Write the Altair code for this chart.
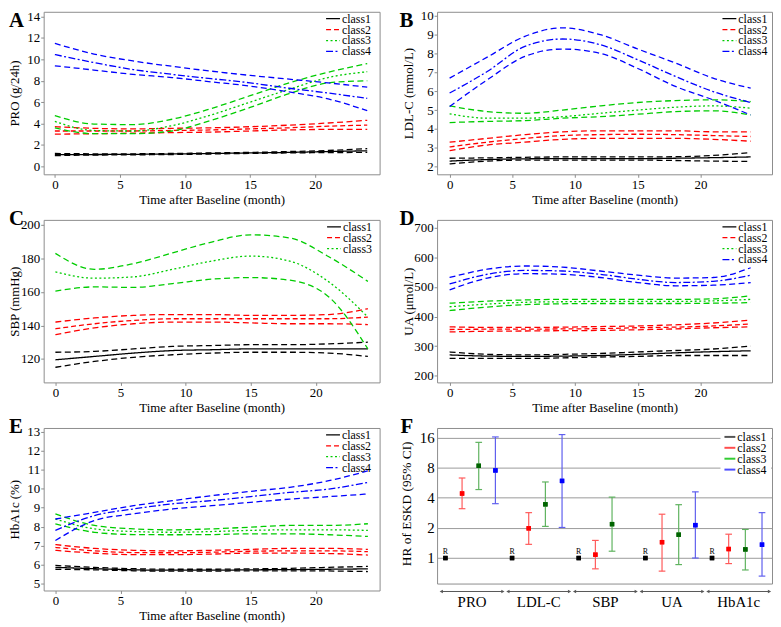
import altair as alt
import pandas as pd

FONT = "Liberation Serif"
months = [0, 3, 6, 9, 12, 15, 18, 21, 24]
classes = ["class1", "class2", "class3", "class4"]
line_colors = ["#000000", "#ff0000", "#00cc00", "#0000ff"]
mid_styles = ["solid", "dash", "dot", "dotdash"]
style_names = ["solid", "dash", "dot", "dotdash", "ci"]
style_dashes = [[1, 0], [5, 3], [2, 2.5], [7, 2.5, 2, 2.5], [6, 3.5]]
x_ticks = [0, 5, 10, 15, 20]

# ---------- Panel A: PRO (g/24h) ----------
pro_lower = [
    [1.00, 1.05, 1.07, 1.10, 1.15, 1.20, 1.25, 1.28, 1.30],
    [3.00, 3.05, 3.10, 3.15, 3.20, 3.30, 3.40, 3.45, 3.45],
    [3.60, 3.05, 3.05, 3.30, 4.30, 5.50, 6.80, 7.80, 8.00],
    [9.40, 9.00, 8.60, 8.30, 7.90, 7.50, 6.95, 6.30, 5.20],
]
pro_mid = [
    [1.10, 1.10, 1.12, 1.15, 1.20, 1.25, 1.30, 1.38, 1.45],
    [3.30, 3.30, 3.30, 3.35, 3.40, 3.50, 3.60, 3.75, 3.85],
    [4.20, 3.35, 3.30, 3.80, 4.80, 6.00, 7.20, 8.30, 8.85],
    [10.45, 9.70, 9.05, 8.60, 8.20, 7.80, 7.30, 6.85, 6.35],
]
pro_upper = [
    [1.20, 1.17, 1.17, 1.20, 1.25, 1.30, 1.38, 1.48, 1.65],
    [3.70, 3.55, 3.50, 3.55, 3.60, 3.70, 3.85, 4.05, 4.30],
    [4.75, 3.95, 3.90, 4.40, 5.40, 6.60, 7.80, 8.80, 9.60],
    [11.50, 10.50, 9.85, 9.35, 8.90, 8.50, 8.15, 7.80, 7.40],
]

# ---------- Panel B: LDL-C (mmol/L) ----------
ldl_lower = [
    [2.15, 2.30, 2.35, 2.35, 2.35, 2.35, 2.33, 2.30, 2.28],
    [2.85, 3.15, 3.30, 3.45, 3.50, 3.50, 3.50, 3.45, 3.35],
    [4.34, 4.40, 4.44, 4.57, 4.65, 4.78, 4.92, 4.96, 4.74],
    [5.19, 6.60, 7.84, 8.23, 8.00, 7.20, 6.25, 5.54, 4.74],
]
ldl_mid = [
    [2.30, 2.38, 2.42, 2.43, 2.43, 2.43, 2.45, 2.48, 2.52],
    [3.05, 3.30, 3.50, 3.65, 3.70, 3.72, 3.70, 3.65, 3.60],
    [4.80, 4.57, 4.57, 4.65, 4.83, 5.00, 5.15, 5.22, 5.10],
    [5.90, 7.04, 8.37, 8.76, 8.46, 7.66, 6.78, 5.98, 5.40],
]
ldl_upper = [
    [2.45, 2.47, 2.50, 2.52, 2.52, 2.52, 2.53, 2.60, 2.75],
    [3.30, 3.50, 3.70, 3.85, 3.90, 3.90, 3.90, 3.85, 3.85],
    [5.22, 4.92, 4.83, 5.00, 5.22, 5.40, 5.50, 5.54, 5.45],
    [6.69, 7.80, 8.90, 9.35, 8.99, 8.23, 7.49, 6.69, 6.16],
]

# ---------- Panel C: SBP (mmHg) ----------
sbp_lower = [
    [115.0, 118.5, 121.0, 122.5, 123.5, 124.0, 124.0, 123.5, 121.5],
    [134.5, 138.5, 141.0, 142.0, 142.0, 141.5, 141.0, 141.0, 140.5],
    [160.5, 163.0, 162.7, 165.0, 167.6, 168.6, 167.0, 157.0, 126.0],
]
sbp_mid = [
    [119.5, 121.5, 123.5, 125.0, 125.5, 126.0, 126.0, 126.0, 126.0],
    [138.0, 141.0, 143.0, 144.0, 144.0, 144.0, 144.0, 144.0, 145.0],
    [172.0, 168.2, 169.0, 173.5, 178.4, 181.4, 178.4, 166.0, 145.0],
]
sbp_upper = [
    [124.0, 124.5, 126.0, 127.5, 128.0, 128.5, 128.5, 129.0, 130.0],
    [142.0, 144.5, 146.0, 146.5, 146.5, 146.0, 146.0, 146.5, 150.0],
    [183.0, 173.5, 176.9, 183.3, 189.8, 194.1, 192.2, 181.0, 166.3],
]

# ---------- Panel D: UA (umol/L) ----------
ua_lower = [
    [258, 258, 258, 260, 263, 265, 268, 268, 268],
    [348, 350, 351, 352, 353, 355, 358, 362, 365],
    [420, 432, 440, 443, 444, 444, 444, 445, 447],
    [490, 530, 545, 543, 532, 515, 504, 506, 515],
]
ua_mid = [
    [270, 266, 265, 266, 268, 272, 277, 281, 284],
    [356, 357, 357, 358, 359, 362, 364, 368, 375],
    [433, 442, 448, 450, 451, 451, 451, 453, 458],
    [510, 543, 556, 554, 543, 526, 515, 519, 540],
]
ua_upper = [
    [280, 272, 270, 272, 275, 280, 285, 290, 300],
    [365, 363, 363, 364, 366, 368, 372, 378, 388],
    [445, 452, 456, 458, 458, 458, 458, 460, 470],
    [532, 560, 571, 567, 554, 540, 530, 532, 565],
]

# ---------- Panel E: HbA1c (%) ----------
hba_lower = [
    [5.75, 5.72, 5.67, 5.65, 5.65, 5.67, 5.67, 5.66, 5.63],
    [6.75, 6.60, 6.52, 6.52, 6.55, 6.60, 6.60, 6.58, 6.50],
    [8.15, 7.70, 7.58, 7.57, 7.58, 7.62, 7.62, 7.57, 7.48],
    [7.27, 8.32, 8.67, 8.93, 9.10, 9.28, 9.45, 9.58, 9.72],
]
hba_mid = [
    [5.85, 5.78, 5.72, 5.70, 5.70, 5.72, 5.73, 5.75, 5.77],
    [6.90, 6.72, 6.63, 6.62, 6.65, 6.70, 6.72, 6.72, 6.68],
    [8.40, 7.88, 7.74, 7.70, 7.74, 7.80, 7.83, 7.83, 7.80],
    [7.80, 8.58, 8.93, 9.20, 9.37, 9.58, 9.80, 9.98, 10.33],
]
hba_upper = [
    [5.95, 5.85, 5.78, 5.75, 5.75, 5.77, 5.80, 5.85, 5.90],
    [7.05, 6.85, 6.75, 6.72, 6.75, 6.80, 6.85, 6.85, 6.80],
    [8.67, 8.06, 7.88, 7.83, 7.88, 7.97, 8.06, 8.06, 8.15],
    [8.40, 8.75, 9.10, 9.37, 9.63, 9.86, 10.07, 10.42, 10.94],
]

# ---------- Panel F: HR of ESKD ----------
f_groups = ["PRO", "LDL-C", "SBP", "UA", "HbA1c"]
f_hr = [[1, 4.41, 8.34, 7.50], [1, 1.98, 3.44, 5.89], [1, 1.08, 2.18, None],
        [1, 1.44, 1.71, 2.13], [1, 1.23, 1.22, 1.36]]
f_lo = [[None, 3.11, 4.83, 3.49], [None, 1.37, 2.07, 2.02], [None, 0.78, 1.17, None],
        [None, 0.74, 0.86, 1.00], [None, 0.88, 0.76, 0.66]]
f_hi = [[None, 6.30, 14.3, 16.2], [None, 2.84, 5.75, 17.1], [None, 1.50, 4.06, None],
        [None, 2.74, 3.41, 4.58], [None, 1.73, 1.93, 2.84]]
f_bar_colors = ["#000000", "#ff5a5a", "#5fb35f", "#5f5fee"]
f_point_colors = ["#000000", "#ff0000", "#006400", "#0000ff"]
f_legend_colors = ["#555555", "#ff4d4d", "#33cc33", "#4d4dff"]

WL, WR, H, HF = 339, 338, 164, 157
LEG_FONT, LEG_STEP = 12, 11


def line_panel(letter, lower, mid, upper, ylabel, ydom, yticks, xdom, width,
               letter_x, letter_y, title_x, leg_x):
    n = len(mid)
    rows = []
    for ci in range(n):
        for kind, arr in (("lower", lower[ci]), ("upper", upper[ci]), ("mid", mid[ci])):
            style = mid_styles[ci] if kind == "mid" else "ci"
            for m, v in zip(months, arr):
                rows.append(dict(month=m, value=v, cls=classes[ci],
                                 series=classes[ci] + "_" + kind, style=style))
    df = pd.DataFrame(rows)
    lines = alt.Chart(df).mark_line(interpolate="monotone", strokeWidth=1.3).encode(
        x=alt.X("month:Q", scale=alt.Scale(domain=xdom, nice=False, zero=False),
                axis=alt.Axis(values=x_ticks, title="Time after Baseline (month)")),
        y=alt.Y("value:Q", scale=alt.Scale(domain=ydom, nice=False, zero=False),
                axis=alt.Axis(values=yticks, title=ylabel, titleX=title_x)),
        color=alt.Color("cls:N", scale=alt.Scale(domain=classes, range=line_colors), legend=None),
        strokeDash=alt.StrokeDash("style:N", scale=alt.Scale(domain=style_names, range=style_dashes),
                                  legend=None),
        detail="series:N",
    )
    layers = [lines]
    for i in range(n):
        ly = 7 + LEG_STEP * i
        leg = alt.Chart(pd.DataFrame({"label": [classes[i]]}))
        layers.append(leg.mark_rule(color=line_colors[i], strokeWidth=1.3,
                                    strokeDash=style_dashes[style_names.index(mid_styles[i])]).encode(
            x=alt.value(leg_x), x2=alt.value(leg_x + 14), y=alt.value(ly)))
        layers.append(leg.mark_text(align="left", baseline="middle", font=FONT, fontSize=LEG_FONT,
                                    color="#000000").encode(
            text="label:N", x=alt.value(leg_x + 16), y=alt.value(ly)))
    layers.append(alt.Chart(pd.DataFrame({"t": [letter]})).mark_text(
        align="left", baseline="top", font=FONT, fontSize=21, fontWeight="bold", color="#000000").encode(
        text="t:N", x=alt.value(letter_x), y=alt.value(letter_y)))
    return alt.layer(*layers).properties(width=width, height=H)


pa = line_panel("A", pro_lower, pro_mid, pro_upper, "PRO (g/24h)", [-0.75, 14.45],
                list(range(0, 15, 2)), [-0.86, 24.95], WL, -35, -2, -22, WL - 54)
pb = line_panel("B", ldl_lower, ldl_mid, ldl_upper, "LDL-C (mmol/L)", [1.6, 10.2],
                list(range(2, 11)), [-1.0, 25.7], WR, -38, -2, -22, WR - 50)
pc = line_panel("C", sbp_lower, sbp_mid, sbp_upper, "SBP (mmHg)", [106, 203],
                [120, 140, 160, 180, 200], [-0.9, 24.9], WL, -35, -12, -22, WL - 53)
pd_ = line_panel("D", ua_lower, ua_mid, ua_upper, "UA (\u03bcmol/L)", [177, 727],
                 [200, 300, 400, 500, 600, 700], [-1.0, 25.7], WR, -38, -12, -22, WR - 50)
pe = line_panel("E", hba_lower, hba_mid, hba_upper, "HbA1c (%)", [4.63, 13.2],
                list(range(5, 14)), [-0.9, 24.9], WL, -35, -12, -22, WL - 54)

# ---------- Panel F ----------
f_rows = []
for g in range(len(f_groups)):
    for c in range(4):
        if f_hr[g][c] is None:
            continue
        f_rows.append(dict(slot=g * 4 + c, hr=f_hr[g][c], lo=f_lo[g][c], hi=f_hi[g][c], cls=classes[c]))
fdf = pd.DataFrame(f_rows)
xs = alt.Scale(domain=[-0.5, 19.6], nice=False, zero=False)
ys = alt.Scale(type="log", base=2, domain=[0.556, 19.9], nice=False)
ftitle = "HR of ESKD (95% CI)"
fyaxis = alt.Axis(values=[1, 2, 4, 8, 16], format="d", grid=True, gridColor="#9a9a9a", ticks=False,
                  labelFontSize=15, titleFontSize=13.5, labelPadding=3, titleX=-24, titleY=76)
bar_scale = alt.Scale(domain=classes, range=f_bar_colors)
pt_scale = alt.Scale(domain=classes, range=f_point_colors)

fbase = alt.Chart(fdf)
f_points = fbase.mark_square(size=20, opacity=1).encode(
    x=alt.X("slot:Q", scale=xs, axis=None),
    y=alt.Y("hr:Q", scale=ys, axis=fyaxis, title=ftitle),
    color=alt.Color("cls:N", scale=pt_scale, legend=None),
)
ferr = fbase.transform_filter("isValid(datum.lo)")
f_bars = ferr.mark_rule(strokeWidth=1.2).encode(
    x=alt.X("slot:Q", scale=xs, axis=None),
    y=alt.Y("lo:Q", scale=ys, title=ftitle), y2="hi:Q",
    color=alt.Color("cls:N", scale=bar_scale, legend=None),
)
capped = ferr.transform_calculate(xl="datum.slot - 0.2", xr="datum.slot + 0.2")
f_cap_lo = capped.mark_rule(strokeWidth=1.2).encode(
    x=alt.X("xl:Q", scale=xs, axis=None), x2="xr:Q",
    y=alt.Y("lo:Q", scale=ys, title=ftitle),
    color=alt.Color("cls:N", scale=bar_scale, legend=None),
)
f_cap_hi = capped.mark_rule(strokeWidth=1.2).encode(
    x=alt.X("xl:Q", scale=xs, axis=None), x2="xr:Q",
    y=alt.Y("hi:Q", scale=ys, title=ftitle),
    color=alt.Color("cls:N", scale=bar_scale, legend=None),
)
f_ref = fbase.transform_filter("datum.cls == 'class1'").mark_text(
    text="R", font=FONT, fontSize=8, dy=-6, color="#000000").encode(
    x=alt.X("slot:Q", scale=xs, axis=None),
    y=alt.Y("hr:Q", scale=ys, title=ftitle),
)

grp_df = pd.DataFrame({
    "name": f_groups,
    "start": [g * 4 - 0.25 for g in range(len(f_groups))],
    "end": [g * 4 + 3.45 for g in range(len(f_groups))],
})
grp_df["center"] = (grp_df["start"] + grp_df["end"]) / 2
gbase = alt.Chart(grp_df)
arrow_line = gbase.mark_rule(color="#555555", strokeWidth=1).encode(
    x=alt.X("start:Q", scale=xs, axis=None), x2="end:Q", y=alt.value(HF + 8))
arrow_l = gbase.mark_point(shape="triangle-left", filled=True, size=14, color="#555555", opacity=1).encode(
    x=alt.X("start:Q", scale=xs, axis=None), y=alt.value(HF + 8))
arrow_r = gbase.mark_point(shape="triangle-right", filled=True, size=14, color="#555555", opacity=1).encode(
    x=alt.X("end:Q", scale=xs, axis=None), y=alt.value(HF + 8))
grp_labels = gbase.mark_text(font=FONT, fontSize=15, baseline="middle", color="#000000").encode(
    x=alt.X("center:Q", scale=xs, axis=None), y=alt.value(HF + 19), text="name:N")

f_layers = [f_points, f_bars, f_cap_lo, f_cap_hi, f_points, f_ref,
            arrow_line, arrow_l, arrow_r, grp_labels]
f_layers.append(alt.Chart(pd.DataFrame({"k": [0]})).mark_rect(color="white").encode(
    x=alt.value(286), x2=alt.value(WR - 1), y=alt.value(3), y2=alt.value(49)))
for i in range(4):
    ly = 9 + LEG_STEP * i
    leg = alt.Chart(pd.DataFrame({"label": [classes[i]]}))
    f_layers.append(leg.mark_rule(color=f_legend_colors[i], strokeWidth=2).encode(
        x=alt.value(290), x2=alt.value(301), y=alt.value(ly)))
    f_layers.append(leg.mark_text(align="left", baseline="middle", font=FONT, fontSize=LEG_FONT,
                                  color="#000000").encode(
        text="label:N", x=alt.value(303), y=alt.value(ly)))
f_layers.append(alt.Chart(pd.DataFrame({"t": ["F"]})).mark_text(
    align="left", baseline="top", font=FONT, fontSize=21, fontWeight="bold", color="#000000").encode(
    text="t:N", x=alt.value(-37), y=alt.value(-12)))
pf = alt.layer(*f_layers).resolve_scale(color="independent").properties(width=WR, height=HF)

chart = alt.concat(
    pa, pb, pc, pd_, pe, pf, columns=2,
    spacing={"row": 46, "column": 58}, bounds="flush",
).properties(
    padding={"left": 0, "top": -2, "right": 0, "bottom": 0}
).configure_view(
    stroke="#8c8c8c", strokeWidth=1
).configure_axis(
    labelFont=FONT, titleFont=FONT, labelFontSize=13, titleFontSize=13,
    titleFontWeight="normal", labelColor="#000000", titleColor="#000000",
    domain=False, grid=False, tickColor="#8c8c8c", tickSize=3, labelPadding=1, titlePadding=2,
)

chart.save("out.html", embed_options={"renderer": "svg", "actions": False})
